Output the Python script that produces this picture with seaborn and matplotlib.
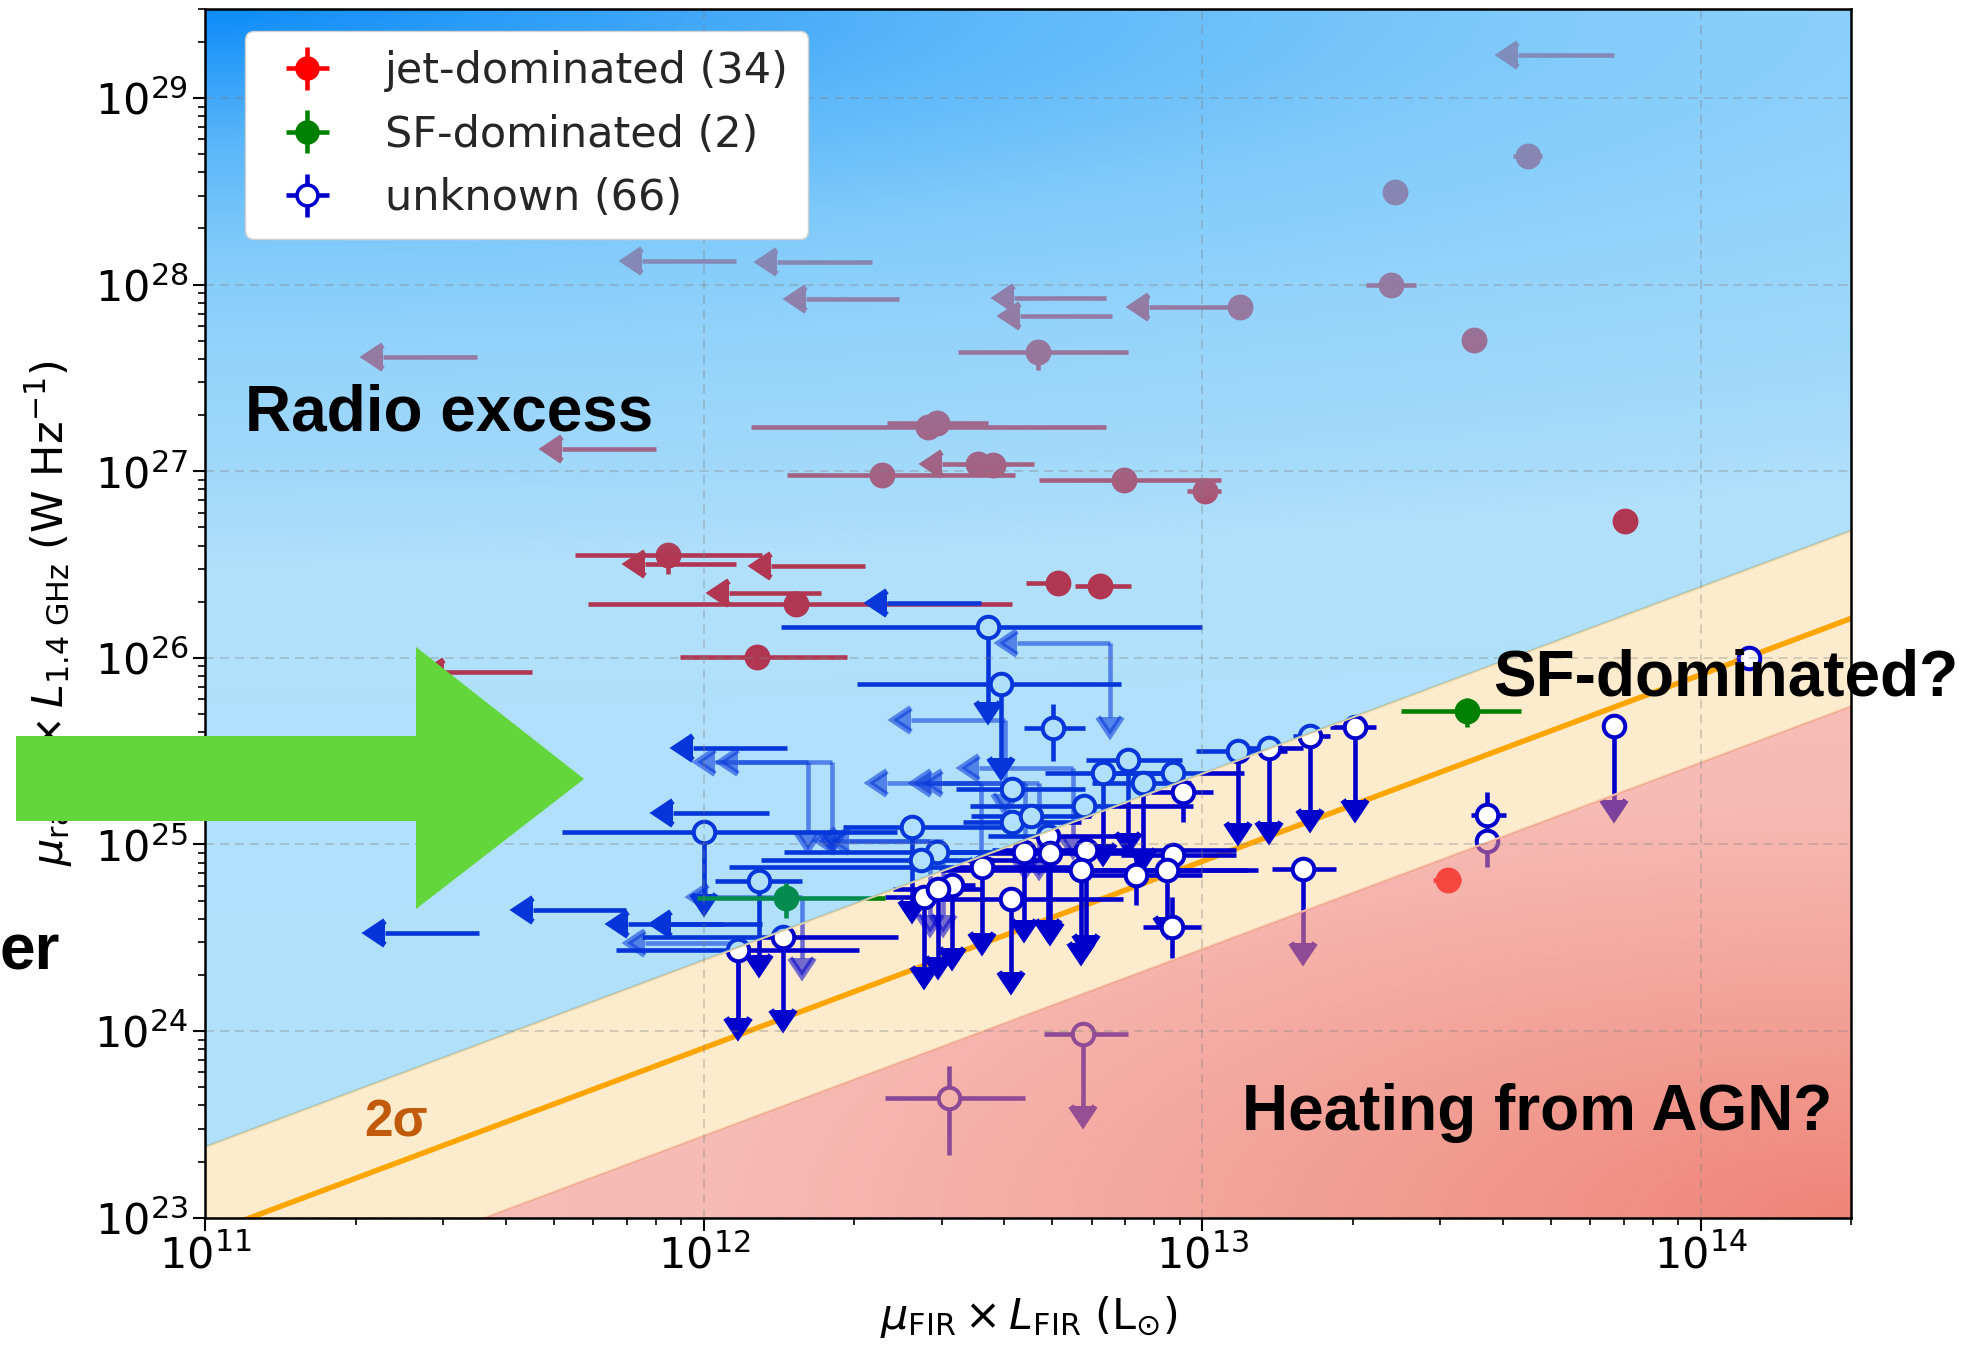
import numpy as np
import matplotlib
matplotlib.use("Agg")
import matplotlib.pyplot as plt
from matplotlib.patches import Polygon
import seaborn as sns

sns.set_theme(style="ticks")
plt.rcParams["font.family"] = ["DejaVu Sans"]
plt.rcParams["mathtext.fontset"] = "dejavusans"

# ---------------------------------------------------------------- data
# jet-dominated sources (x = mu_FIR*L_FIR [Lsun], y = mu_radio*L_1.4GHz [W/Hz])
jet_x = [6.7e13, 4.5e13, 2.43e13, 2.39e13, 3.5e13, 7.05e13, 1.19e13, 6.4e12, 6.6e12,
         4.68e12, 2.82e12, 2.94e12, 3.55e12, 3.8e12, 4.6e12, 2.28e12, 6.97e12, 1.01e13,
         8.47e11, 1.16e12, 2.1e12, 1.72e12, 1.53e12, 1.28e12, 4.52e11, 1.16e12, 2.17e12,
         2.46e12, 3.5e11, 8.0e11, 5.14e12, 6.22e12, 3.11e13]
jet_y = [1.7e29, 4.9e28, 3.14e28, 9.9e27, 5.06e27, 5.4e26, 7.6e27, 8.5e27, 6.8e27,
         4.37e27, 1.73e27, 1.82e27, 1.1e27, 1.08e27, 1.1e27, 9.6e26, 8.98e26, 7.8e26,
         3.56e26, 3.2e26, 3.1e26, 2.23e26, 1.95e26, 1.01e26, 8.4e25, 1.34e28, 1.32e28,
         8.36e27, 4.1e27, 1.32e27, 2.51e26, 2.43e26, 6.46e24]
jet_x_lo = [4.3e13, 4.2e13, 2.43e13, 2.13e13, 3.35e13, 7.05e13, 7.8e12, 4.19e12, 4.3e12,
            3.24e12, 1.24e12, 2.33e12, 3.55e12, 3.8e12, 3.0e12, 1.47e12, 4.7e12, 9.3e12,
            5.5e11, 7.6e11, 1.36e12, 1.12e12, 5.85e11, 8.97e11, 3.01e11, 7.5e11, 1.4e12,
            1.6e12, 2.27e11, 5.2e11, 4.43e12, 5.56e12, 2.9e13]
jet_x_hi = [6.7e13, 4.8e13, 2.43e13, 2.68e13, 3.65e13, 7.05e13, 1.19e13, 6.4e12, 6.6e12,
            7.1e12, 6.4e12, 3.72e12, 3.55e12, 3.8e12, 4.6e12, 4.2e12, 1.09e13, 1.09e13,
            1.31e12, 1.16e12, 2.1e12, 1.72e12, 4.14e12, 1.94e12, 4.52e11, 1.16e12, 2.17e12,
            2.46e12, 3.5e11, 8.0e11, 5.4e12, 7.2e12, 3.3e13]
jet_y_lo = [1.7e29, 4.7e28, 2.7e28, 9.9e27, 5.06e27, 5.4e26, 7.6e27, 8.5e27, 6.8e27,
            3.47e27, 1.73e27, 1.82e27, 1.1e27, 1.08e27, 1.1e27, 9.6e26, 8.98e26, 7.8e26,
            2.83e26, 3.2e26, 3.1e26, 2.23e26, 1.95e26, 1.01e26, 8.4e25, 1.34e28, 1.32e28,
            8.36e27, 4.1e27, 1.32e27, 2.51e26, 2.43e26, 6.46e24]
jet_y_hi = [1.7e29, 5.1e28, 3.3e28, 9.9e27, 5.06e27, 5.4e26, 7.6e27, 8.5e27, 6.8e27,
            5.08e27, 1.73e27, 1.82e27, 1.1e27, 1.08e27, 1.1e27, 9.6e26, 8.98e26, 7.8e26,
            4.08e26, 3.2e26, 3.1e26, 2.23e26, 1.95e26, 1.01e26, 8.4e25, 1.34e28, 1.32e28,
            8.36e27, 4.1e27, 1.32e27, 2.51e26, 2.43e26, 6.46e24]
jet_x_limit = [1, 0, 0, 0, 0, 0, 1, 1, 1, 0, 0, 0, 0, 0, 1, 0, 0, 0,
               0, 1, 1, 1, 0, 0, 1, 1, 1, 1, 1, 1, 0, 0, 0]
jet_detected = [0, 1, 1, 1, 1, 1, 1, 0, 0, 1, 1, 1, 1, 1, 0, 1, 1, 1,
                1, 0, 0, 0, 1, 1, 0, 0, 0, 0, 0, 0, 1, 1, 1]

# SF-dominated sources
sf_x = [3.4e13, 1.46e12]
sf_y = [5.2e25, 5.17e24]
sf_x_lo = [2.5e13, 9.7e11]
sf_x_hi = [4.35e13, 2.31e12]
sf_y_lo = [4.28e25, 4.03e24]
sf_y_hi = [6.07e25, 6.25e24]

# unknown sources with a radio detection marker
unk_x = [3.72e12, 3.95e12, 5.02e12, 1.0e12, 1.29e12, 1.44e12, 1.17e12, 2.62e12, 2.93e12,
         2.72e12, 2.76e12, 3.14e12, 2.95e12, 1.18e13, 7.08e12, 6.31e12, 8.73e12, 7.6e12,
         9.12e12, 5.78e12, 4.14e12, 4.14e12, 4.53e12, 4.91e12, 3.61e12, 4.39e12, 4.95e12,
         5.85e12, 5.7e12, 4.13e12, 7.36e12, 8.73e12, 8.47e12, 8.67e12, 1.36e13, 1.64e13,
         2.02e13, 1.59e13, 3.73e13, 3.72e13, 6.7e13, 1.25e14, 5.77e12, 3.1e12]
unk_y = [1.46e26, 7.24e25, 4.23e25, 1.16e25, 6.37e24, 3.2e24, 2.72e24, 1.24e25, 9.1e24,
         8.3e24, 5.25e24, 6.07e24, 5.8e24, 3.18e25, 2.84e25, 2.43e25, 2.43e25, 2.13e25,
         1.92e25, 1.6e25, 1.98e25, 1.32e25, 1.42e25, 1.11e25, 7.6e24, 9.1e24, 9.0e24,
         9.3e24, 7.3e24, 5.08e24, 6.87e24, 8.8e24, 7.3e24, 3.62e24, 3.27e25, 3.81e25,
         4.28e25, 7.36e24, 1.44e25, 1.05e25, 4.32e25, 9.95e25, 9.7e23, 4.36e23]
unk_x_lo = [1.43e12, 2.03e12, 4.38e12, 5.2e11, 1.05e12, 7.5e11, 6.67e11, 1.9e12, 1.45e12,
            1.3e12, 2.31e12, 2.8e12, 2.4e12, 9.7e12, 5.83e12, 4.83e12, 6.56e12, 6.0e12,
            7.89e12, 3.42e12, 3.21e12, 3.31e12, 3.44e12, 3.72e12, 1.12e12, 2.95e12, 3.55e12,
            3.78e12, 2.96e12, 2.96e12, 5.6e12, 6.87e12, 5.3e12, 7.6e12, 1.21e13, 1.52e13,
            1.8e13, 1.38e13, 3.45e13, 3.72e13, 6.7e13, 1.25e14, 4.82e12, 2.31e12]
unk_x_hi = [1.0e13, 6.86e12, 5.81e12, 2.44e12, 1.57e12, 2.45e12, 2.05e12, 4.2e12, 5.6e12,
            5.0e12, 3.16e12, 3.5e12, 3.6e12, 1.48e13, 9.08e12, 8.53e12, 1.21e13, 9.5e12,
            1.05e13, 9.57e12, 5.81e12, 5.71e12, 5.98e12, 6.78e12, 5.6e12, 7.1e12, 7.1e12,
            1.17e13, 1.23e13, 6.93e12, 1.0e13, 1.17e13, 1.29e13, 9.95e12, 1.59e13, 1.8e13,
            2.23e13, 1.85e13, 4.06e13, 3.72e13, 6.7e13, 1.25e14, 7.1e12, 4.4e12]
unk_y_lo = [5.8e25, 2.9e25, 2.8e25, 5.4e24, 2.56e24, 1.3e24, 1.17e24, 5.0e24, 9.1e24,
            8.3e24, 2.2e24, 2.78e24, 2.5e24, 1.3e25, 1.15e25, 1.01e25, 2.43e25, 9.5e24,
            1.32e25, 1.6e25, 1.98e25, 1.32e25, 1.42e25, 3.94e24, 3.34e24, 3.94e24, 3.8e24,
            3.27e24, 2.95e24, 2.08e24, 4.74e24, 8.8e24, 4.1e24, 2.45e24, 1.32e25, 1.53e25,
            1.73e25, 2.95e24, 1.06e25, 7.6e24, 1.73e25, 9.95e25, 3.97e23, 2.17e23]
unk_y_hi = [1.46e26, 7.24e25, 5.64e25, 1.16e25, 6.37e24, 3.2e24, 2.72e24, 1.24e25, 9.1e24,
            8.3e24, 5.25e24, 6.07e24, 5.8e24, 3.18e25, 2.84e25, 2.43e25, 2.43e25, 2.13e25,
            2.0e25, 1.6e25, 1.98e25, 1.32e25, 1.42e25, 1.11e25, 7.6e24, 9.1e24, 9.0e24,
            9.3e24, 7.3e24, 5.08e24, 9.0e24, 8.8e24, 7.3e24, 5.2e24, 3.27e25, 3.81e25,
            4.28e25, 7.36e24, 1.92e25, 1.05e25, 4.32e25, 9.95e25, 9.7e23, 6.46e23]
unk_y_limit = [1, 1, 0, 1, 1, 1, 1, 1, 0, 0, 1, 1, 1, 1, 1, 1, 0, 1, 0, 0, 0, 0,
               0, 1, 1, 1, 1, 1, 1, 1, 0, 0, 1, 0, 1, 1, 1, 1, 0, 0, 1, 0, 1, 0]

# unknown sources with an upper limit in FIR only
unk_fir_ul_x = [1.47e12, 1.35e12, 1.09e12, 1.31e12, 6.98e11, 3.53e11, 3.6e12]
unk_fir_ul_y = [3.27e25, 1.48e25, 3.77e24, 3.77e24, 4.43e24, 3.37e24, 1.97e26]
unk_fir_ul_x_lo = [9.5e11, 8.65e11, 7.03e11, 8.57e11, 4.54e11, 2.29e11, 2.33e12]

# unknown sources with upper limits on both axes
unk_both_ul_x = [6.52e12, 4.02e12, 1.81e12, 1.62e12, 5.5e12, 3.6e12, 4.4e12, 4.7e12,
                 1.57e12, 1.17e12, 2.84e12, 3.02e12]
unk_both_ul_y = [1.2e26, 4.65e25, 2.78e25, 2.78e25, 2.56e25, 2.14e25, 2.14e25, 2.14e25,
                 5.2e24, 2.95e24, 1.04e25, 1.04e25]
unk_both_ul_x_lo = [4.24e12, 2.6e12, 1.17e12, 1.05e12, 3.56e12, 2.33e12, 2.85e12, 3.0e12,
                    1.02e12, 7.6e11, 1.84e12, 1.95e12]
unk_both_ul_y_lo = [4.84e25, 1.86e25, 1.17e25, 1.17e25, 1.1e25, 8.5e24, 8.5e24, 8.5e24,
                    2.45e24, 1.18e24, 4.2e24, 4.2e24]

legend_labels = ["jet-dominated (34)", "SF-dominated (2)", "unknown (66)"]

# FIR-radio relation: log L_1.4 = log L_FIR + norm, with a 2-sigma band
relation_norm_dex = 11.91
relation_2sigma_dex = 0.47

XLIM = (1e11, 2e14)
YLIM = (1e23, 3e29)

# ---------------------------------------------------------------- figure
W, H = 1967, 1351
fig = plt.figure(figsize=(W / 100, H / 100), dpi=100)
fig.patch.set_facecolor("white")
ax = fig.add_axes([0.10447, 0.09867, 0.83655, 0.89467])
ax.set_xscale("log")
ax.set_yscale("log")
ax.set_xlim(*XLIM)
ax.set_ylim(*YLIM)
ax.set_autoscale_on(False)
ax.set_facecolor("white")

xx = np.array([1e10, 1e15])
center = xx * 10 ** relation_norm_dex
upper = center * 10 ** relation_2sigma_dex
lower = center / 10 ** relation_2sigma_dex

ax.fill_between(xx, lower, upper, color="#fdebcd", lw=0, zorder=0.6)
sns.lineplot(x=xx, y=center, color="orange", lw=3.9, zorder=1.5, ax=ax, legend=False)


def draw(x, y, x_lo, x_hi, y_lo, y_hi, xlim, ylim, fmt, color, alpha=1.0,
         mfc=None, ms=15, mew=2.6, zorder=2.0):
    x, y = np.asarray(x, float), np.asarray(y, float)
    x_lo, x_hi = np.asarray(x_lo, float), np.asarray(x_hi, float)
    y_lo, y_hi = np.asarray(y_lo, float), np.asarray(y_hi, float)
    kw = dict(fmt=fmt, color=color, ecolor=color, elinewidth=3.3, capsize=0,
              alpha=alpha, zorder=zorder)
    if fmt != "none":
        kw.update(ms=ms, mec=color, mew=mew, mfc=mfc if mfc else color)
    cont = ax.errorbar(x, y, xerr=[x - x_lo, x_hi - x], yerr=[y - y_lo, y_hi - y],
                       xuplims=np.asarray(xlim, bool), uplims=np.asarray(ylim, bool), **kw)
    for cl in cont.lines[1]:
        cl.set_markersize(17)
        cl.set_markeredgewidth(4.4)
    return cont


def subset(mask, *arrays):
    mask = np.asarray(mask, bool)
    return [np.asarray(a)[mask] for a in arrays]


# jet-dominated
jm = np.asarray(jet_detected, bool)
for m, fmt in [(jm, "o"), (~jm, "none")]:
    xs, ys, xl, xh, yl, yh, xlim = subset(m, jet_x, jet_y, jet_x_lo, jet_x_hi,
                                          jet_y_lo, jet_y_hi, jet_x_limit)
    draw(xs, ys, xl, xh, yl, yh, xlim, np.zeros(len(xs)), fmt, "red", ms=16, zorder=2.0)

# unknown: both limits (faint), FIR limits, detections
n = len(unk_both_ul_x)
draw(unk_both_ul_x, unk_both_ul_y, unk_both_ul_x_lo, unk_both_ul_x,
     unk_both_ul_y_lo, unk_both_ul_y, np.ones(n), np.ones(n), "none", "mediumblue",
     alpha=0.55, zorder=2.1)
n = len(unk_fir_ul_x)
draw(unk_fir_ul_x, unk_fir_ul_y, unk_fir_ul_x_lo, unk_fir_ul_x,
     unk_fir_ul_y, unk_fir_ul_y, np.ones(n), np.zeros(n), "none", "mediumblue", zorder=2.2)
draw(unk_x, unk_y, unk_x_lo, unk_x_hi, unk_y_lo, unk_y_hi, np.zeros(len(unk_x)),
     unk_y_limit, "o", "mediumblue", mfc="white", ms=15.5, mew=2.9, zorder=2.3)

# SF-dominated
draw(sf_x, sf_y, sf_x_lo, sf_x_hi, sf_y_lo, sf_y_hi, [0, 0], [0, 0], "o", "green",
     ms=16, zorder=2.4)

# thin edges of the band
ax.plot(xx, upper, color="#efd3a0", lw=1.6, zorder=3.9)
ax.plot(xx, lower, color="#f7cfae", lw=1.6, zorder=3.9)

# ---------------------------------------------------------------- shaded regions
ny, nx = 500, 700
u = np.linspace(0, 1, nx)[None, :]
v = np.linspace(0, 1, ny)[:, None]          # 0 at the top of the axes

# radio-excess region: blue haze, deeper towards the upper left
d = np.sqrt((u / 1.8) ** 2 + (v / 0.44) ** 2)
d_stops = [0, 0.12, 0.25, 0.45, 0.65, 0.85, 0.97, 1.04, 3]
bg_r = [12, 50, 90, 128, 148, 160, 168, 176, 176]
bg_g = [140, 160, 182, 203, 211, 216, 220, 224, 225]
bg_b = [250, 250, 250, 251, 251, 251, 251, 251, 251]
a_st = [1.0, 0.94, 0.86, 0.76, 0.66, 0.56, 0.5, 0.34, 0.32]
alpha_b = np.interp(d, d_stops, a_st)
chan = []
for stops in (bg_r, bg_g, bg_b):
    bgc = np.interp(d, d_stops, stops)
    chan.append(np.clip((bgc - (1 - alpha_b) * 255) / alpha_b, 0, 255) / 255)
blue_img = np.dstack(chan + [alpha_b])
im_b = ax.imshow(blue_img, extent=(0, 1, 0, 1), transform=ax.transAxes, aspect="auto",
                 interpolation="bilinear", zorder=4)
up_poly = Polygon([(xx[0], upper[0]), (xx[1], upper[1]), (xx[1], 1e32), (xx[0], 1e32)],
                  closed=True, transform=ax.transData)
im_b.set_clip_path(up_poly)

# radio-deficit region: salmon haze, deeper towards the lower right
yf = 1 - v
r = np.sqrt(((1 - u) / 0.7) ** 2 + (yf / 0.35) ** 2)
alpha_r = np.interp(r, [0, 0.5, 1.0, 3], [0.95, 0.72, 0.52, 0.48])
red_img = np.dstack([np.full_like(alpha_r, 238 / 255), np.full_like(alpha_r, 125 / 255),
                     np.full_like(alpha_r, 112 / 255), alpha_r])
im_r = ax.imshow(red_img, extent=(0, 1, 0, 1), transform=ax.transAxes, aspect="auto",
                 interpolation="bilinear", zorder=4)
lo_poly = Polygon([(xx[0], lower[0]), (xx[1], lower[1]), (xx[1], 1e18), (xx[0], 1e18)],
                  closed=True, transform=ax.transData)
im_r.set_clip_path(lo_poly)

# ---------------------------------------------------------------- axes styling
ax.grid(True, which="major", color="gray", alpha=0.35, lw=1.3, linestyle=(0, (5, 3.3)))
ax.xaxis.set_zorder(4.5)
ax.yaxis.set_zorder(4.5)
for s in ax.spines.values():
    s.set_linewidth(1.8)
    s.set_color("black")
    s.set_zorder(6)
ax.tick_params(which="major", direction="out", length=9, width=1.5, labelsize=31,
               top=False, right=False, color="black", labelcolor="black")
ax.tick_params(which="minor", direction="out", length=5, width=1.2,
               top=False, right=False, color="black")

ax.set_xlabel(r"$\mu_{\rm FIR} \times L_{\rm FIR}$ (L$_{\odot}$)", fontsize=31,
              labelpad=12, color="black")
ax.set_ylabel(r"$\mu_{\rm radio} \times L_{\rm 1.4\ GHz}$ (W Hz$^{-1}$)", fontsize=31,
              labelpad=14, color="black")

# legend with errorbar-style handles
handles = []
for col, mfc in [("red", "red"), ("green", "green"), ("mediumblue", "white")]:
    h = ax.errorbar([np.nan], [np.nan], xerr=[[1.0], [1.0]], yerr=[[1.0], [1.0]], fmt="o",
                    color=col, ecolor=col, ms=15, mec=col, mfc=mfc, mew=2.6,
                    elinewidth=3.3, capsize=0)
    handles.append(h)
leg = ax.legend(handles, legend_labels, loc="upper left",
                bbox_to_anchor=(0.024, 0.9818), borderaxespad=0, fontsize=31,
                frameon=True, framealpha=1, facecolor="white", edgecolor="#d0d0d0",
                fancybox=True, borderpad=0.45, labelspacing=0.5, handlelength=2.0,
                handletextpad=0.8)
leg.set_zorder(8)

# ---------------------------------------------------------------- annotations
bold = dict(family="Liberation Sans", weight="bold", color="black")
fig.text(245 / W, 1 - 414 / H, "Radio excess", ha="left", va="center", fontsize=46, **bold)
fig.text(1493 / W, 1 - 679 / H, "SF-dominated?", ha="left", va="center", fontsize=46, **bold)
fig.text(1242 / W, 1 - 1113 / H, "Heating from AGN?", ha="left", va="center", fontsize=46,
         **bold)
fig.text(60 / W, 1 - 953 / H, "er", ha="right", va="center", fontsize=46, **bold)
fig.text(396 / W, 1 - 1123 / H, "2σ", ha="center", va="center", fontsize=37,
         family="Liberation Sans", weight="bold", color="#c15a0b")

arrow_px = [(16, 736), (416, 736), (416, 647), (584, 779), (416, 909), (416, 821), (16, 821)]
arrow = Polygon([(px / W, 1 - py / H) for px, py in arrow_px], closed=True,
                transform=fig.transFigure, facecolor="#62d63a", edgecolor="none", zorder=20)
fig.add_artist(arrow)

fig.savefig("out.png", dpi=100, facecolor="white")
